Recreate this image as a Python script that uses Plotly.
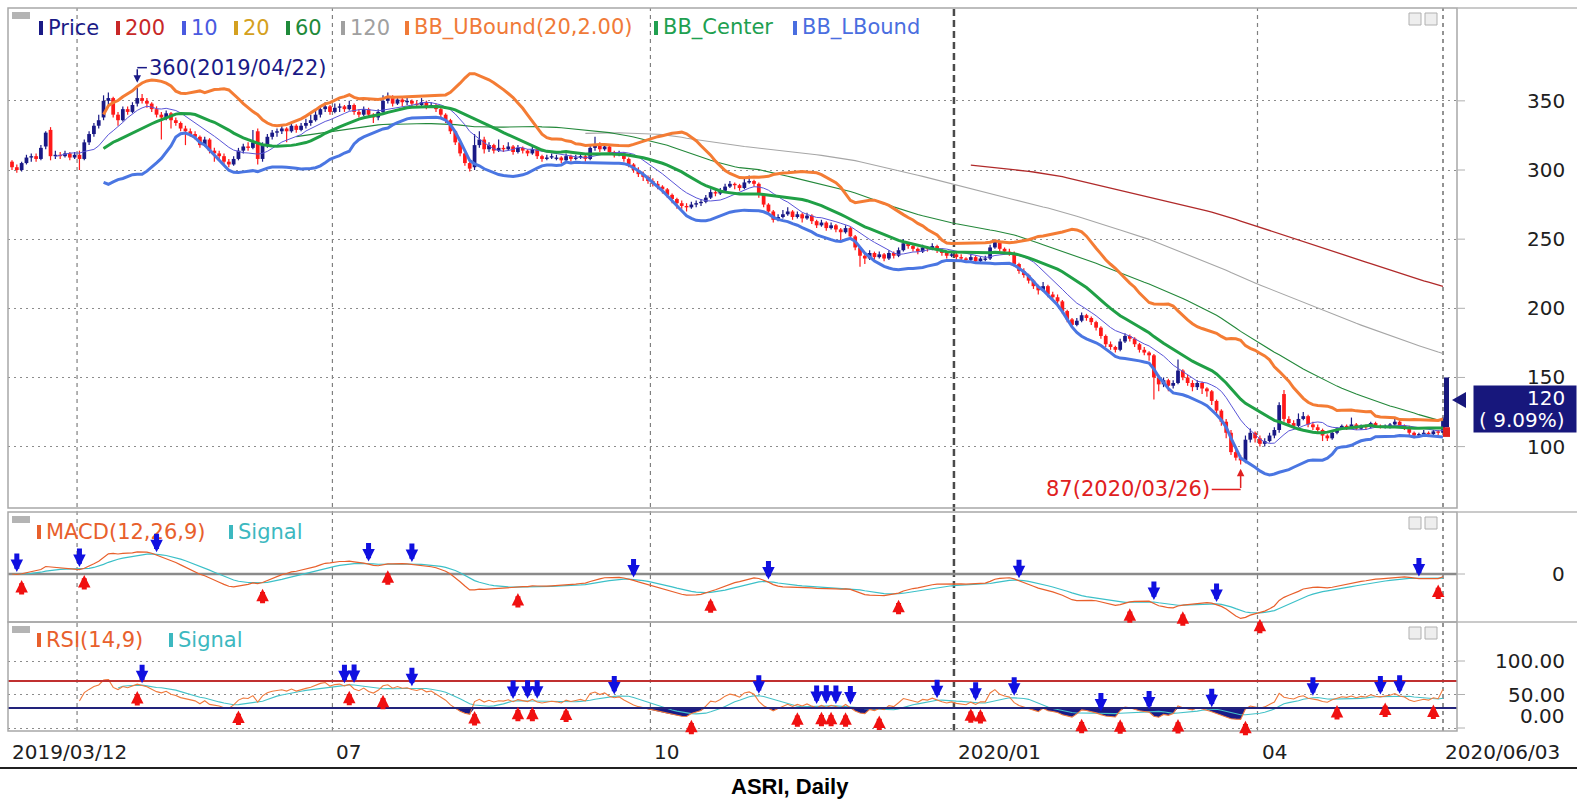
import numpy as np
import pandas as pd
import plotly.graph_objects as go

# ---------------- data ----------------
open_ = [
    306, 302, 300, 305, 309, 310, 308, 317, 329, 310,
    311, 310, 312, 309, 311, 308, 320, 326, 332, 338,
    350, 352, 340, 336, 344, 342, 348, 352, 350, 348,
    344, 340, 338, 341, 336, 334, 330, 328, 326, 324,
    318, 322, 314, 312, 310, 306, 304, 308, 314, 317,
    316, 328, 308, 318, 324, 327, 328, 330, 328, 332,
    329, 332, 334, 336, 340, 344, 346, 342, 345, 346,
    344, 347, 342, 340, 344, 340, 338, 342, 350, 352,
    348, 351, 349, 350, 348, 347, 349, 346, 347, 344,
    340, 336, 328, 320, 312, 305, 302, 318, 322, 315,
    318, 314, 316, 315, 317, 313, 316, 314, 312, 315,
    310, 308, 309, 308, 309, 307, 310, 308, 309,
    310, 308, 316, 318, 315, 317, 313, 311, 312, 308,
    304, 300, 297, 295, 292, 290, 288, 286, 282, 279,
    276, 274, 273, 275, 276, 277, 280, 284, 283, 285,
    288, 290, 289, 287, 291, 292, 290, 282, 275, 270,
    264, 266, 268, 270, 266, 268, 265, 267, 263, 260,
    262, 258, 260, 257, 255, 258, 252, 244, 238, 236,
    240, 237, 239, 236, 240, 238, 242, 247, 245, 243,
    241, 244, 243, 245, 242, 240, 238, 239, 237, 236,
    235, 237, 234, 235, 236, 244, 248, 243, 241,
    240, 232, 227, 224, 220, 216, 213, 216, 210, 208,
    205, 198, 192, 188, 191, 195, 193, 190, 186, 180,
    174, 172, 170, 176, 180, 178, 174, 170, 168, 166,
    150, 145, 148, 144, 146, 155, 150, 146, 143, 146,
    142, 140, 133, 126, 118, 110, 96, 92, 90, 105,
    110, 106, 102, 104, 108, 112, 138, 120, 117, 115,
    120, 122, 116, 114, 112, 108, 106, 110, 113, 115,
    114, 116, 113, 115, 114, 117, 115, 114, 114, 116, 118,
    115, 114, 110, 108, 109, 110, 109, 111, 110,
]
high = [
    307, 304, 306, 311, 312, 312, 318, 328, 331, 314,
    313, 314, 313, 313, 314, 322, 328, 334, 340, 354,
    356, 353, 342, 346, 346, 349, 360, 355, 352, 349,
    346, 342, 343, 342, 338, 335, 332, 330, 328, 325,
    324, 323, 316, 314, 312, 308, 310, 316, 319, 320,
    329, 330, 320, 326, 329, 330, 333, 331, 334, 333,
    334, 337, 340, 344, 346, 349, 347, 348, 348, 347,
    350, 348, 344, 346, 345, 341, 344, 354, 356, 354,
    353, 352, 352, 351, 350, 352, 350, 349, 348, 345,
    341, 337, 329, 322, 313, 306, 326, 328, 324, 320,
    319, 322, 318, 320, 318, 318, 317, 315, 317, 316,
    311, 311, 312, 311, 310, 312, 311, 311, 312,
    311, 318, 324, 320, 319, 318, 314, 314, 313, 309,
    305, 302, 299, 296, 294, 292, 289, 287, 283, 280,
    278, 276, 277, 278, 279, 282, 286, 286, 287, 290,
    292, 291, 290, 294, 296, 293, 291, 283, 276, 271,
    268, 271, 273, 271, 270, 269, 269, 268, 264, 264,
    263, 262, 261, 258, 260, 259, 253, 245, 240, 242,
    241, 241, 240, 242, 241, 244, 250, 248, 246, 244,
    246, 245, 247, 246, 243, 241, 241, 240, 239, 237,
    239, 238, 237, 238, 246, 250, 249, 244, 243,
    241, 233, 229, 225, 221, 217, 219, 217, 212, 210,
    206, 199, 193, 193, 197, 196, 194, 191, 187, 181,
    176, 173, 178, 182, 181, 179, 175, 172, 169, 167,
    152, 150, 149, 148, 163, 156, 152, 148, 148, 147,
    143, 141, 134, 127, 120, 112, 100, 94, 108, 113,
    111, 108, 106, 110, 114, 132, 141, 122, 119, 124,
    125, 123, 118, 116, 113, 109, 112, 114, 116, 116,
    121, 117, 116, 116, 118, 118, 116, 116, 117, 120, 119,
    116, 115, 111, 110, 112, 111, 112, 112, 121,
]
low = [
    300, 298, 299, 304, 306, 306, 307, 315, 307, 308,
    308, 309, 307, 308, 300, 307, 318, 324, 330, 336,
    346, 338, 332, 335, 340, 341, 346, 348, 345, 342,
    338, 322, 336, 330, 332, 328, 318, 324, 322, 316,
    317, 312, 306, 307, 304, 302, 303, 307, 312, 314,
    315, 304, 306, 316, 322, 324, 326, 320, 327, 327,
    328, 330, 332, 335, 338, 342, 340, 341, 342, 342,
    343, 340, 338, 339, 338, 334, 336, 341, 348, 346,
    347, 346, 347, 346, 345, 346, 344, 345, 342, 338,
    334, 326, 318, 310, 303, 299, 300, 316, 312, 313,
    312, 313, 313, 314, 311, 312, 312, 310, 311, 308,
    306, 307, 308, 307, 305, 306, 306, 307, 308,
    306, 307, 314, 313, 314, 311, 309, 310, 306, 302,
    298, 295, 292, 290, 288, 286, 283, 280, 276, 272,
    272, 270, 272, 273, 274, 276, 279, 281, 282, 284,
    287, 286, 285, 286, 290, 288, 280, 273, 268, 262,
    263, 265, 267, 264, 265, 262, 264, 261, 258, 259,
    256, 257, 255, 248, 254, 250, 242, 230, 232, 235,
    235, 236, 234, 235, 236, 237, 241, 243, 241, 239,
    240, 241, 242, 240, 238, 236, 237, 235, 234, 233,
    234, 232, 233, 234, 235, 243, 241, 239, 238,
    230, 225, 222, 218, 214, 210, 212, 208, 206, 203,
    196, 190, 186, 187, 190, 191, 188, 184, 178, 172,
    170, 168, 169, 175, 176, 172, 168, 166, 162, 134,
    140, 143, 140, 142, 145, 148, 144, 140, 141, 138,
    136, 130, 124, 115, 106, 94, 90, 87, 88, 103,
    103, 100, 100, 103, 106, 110, 118, 115, 113, 114,
    119, 114, 112, 110, 104, 104, 105, 109, 112, 112,
    113, 112, 112, 112, 113, 114, 113, 113, 113, 115, 114,
    112, 108, 106, 107, 108, 107, 108, 108, 110,
]
close = [
    302, 300, 305, 309, 310, 308, 316, 327, 310, 311,
    310, 312, 309, 311, 308, 320, 326, 332, 336, 350,
    352, 340, 336, 344, 342, 347, 352, 350, 348, 344,
    340, 338, 341, 336, 334, 330, 328, 326, 324, 318,
    322, 314, 312, 310, 306, 304, 308, 314, 317, 316,
    320, 308, 318, 324, 327, 328, 330, 328, 332, 329,
    332, 334, 336, 340, 344, 346, 342, 345, 346, 344,
    347, 342, 340, 344, 340, 338, 342, 350, 352, 348,
    351, 349, 350, 348, 347, 349, 346, 347, 344, 340,
    336, 328, 320, 312, 305, 301, 318, 322, 315, 318,
    314, 316, 315, 317, 313, 316, 314, 312, 315, 310,
    308, 309, 310, 309, 307, 310, 308, 309, 310,
    308, 316, 318, 315, 317, 313, 311, 312, 308, 304,
    300, 297, 295, 292, 290, 288, 286, 282, 279, 276,
    274, 273, 275, 276, 277, 280, 284, 283, 285, 288,
    290, 289, 287, 291, 292, 290, 282, 275, 270, 264,
    266, 268, 270, 266, 268, 265, 267, 263, 260, 262,
    258, 260, 257, 255, 258, 252, 244, 238, 236, 240,
    237, 239, 236, 240, 238, 242, 247, 245, 243, 241,
    244, 243, 245, 242, 240, 238, 239, 237, 236, 235,
    237, 234, 236, 236, 244, 248, 243, 241, 240,
    232, 227, 224, 220, 216, 213, 216, 210, 208, 205,
    198, 192, 188, 191, 195, 193, 190, 186, 180, 174,
    172, 170, 176, 180, 178, 174, 170, 168, 166, 150,
    145, 148, 144, 146, 155, 150, 146, 143, 146, 142,
    140, 133, 126, 118, 110, 96, 92, 90, 105, 110,
    106, 102, 104, 108, 112, 130, 120, 117, 115, 120,
    122, 116, 114, 112, 108, 106, 110, 113, 115, 114,
    116, 113, 115, 114, 117, 115, 114, 115, 116, 118, 115,
    114, 110, 108, 109, 110, 109, 111, 110, 120,
]

holidays = [
    "2019-04-03", "2019-04-17", "2019-04-19", "2019-05-01", "2019-05-30", "2019-05-31",
    "2019-06-03", "2019-06-04", "2019-06-05", "2019-06-06", "2019-06-07", "2019-06-10",
    "2019-12-24", "2019-12-25", "2019-12-31", "2020-01-01", "2020-03-25", "2020-04-10",
    "2020-05-01", "2020-05-07", "2020-05-21", "2020-05-22", "2020-05-25", "2020-06-01",
]
tick_months = ["2019-04", "2019-07", "2019-10", "2020-01", "2020-04"]
tick_texts = ["", "07", "10", "2020/01", "04"]
first_label = "2019/03/12"
last_label = "2020/06/03"
price_ticks = [100, 150, 200, 250, 300, 350]
rsi_ticks = [0, 50, 100]
ma_periods = [200, 10, 20, 60, 120]
hi_note = "360(2019/04/22)"
lo_note = "87(2020/03/26)"
title = "ASRI, Daily"

# ---------------- calendar ----------------
days = pd.bdate_range("2019-03-12", "2020-06-03")
days = days[~days.strftime("%Y-%m-%d").isin(holidays)]
n = len(close)
days = days[:n]
xi = np.arange(n)
ym = days.strftime("%Y-%m")
month_idx = [int(np.argmax(ym == m)) for m in tick_months]

# ---------------- indicators ----------------
c = pd.Series(close, dtype=float)
ma = {p: c.rolling(p).mean() for p in ma_periods}
sd20 = c.rolling(20).std(ddof=0)
bb_mid = c.rolling(20).mean()
bb_up = bb_mid + 2 * sd20
bb_lo = bb_mid - 2 * sd20
ema12 = c.ewm(span=12, adjust=False).mean()
ema26 = c.ewm(span=26, adjust=False).mean()
macd = ema12 - ema26
macd_sig = macd.ewm(span=9, adjust=False).mean()
d = c.diff()
gain = d.clip(lower=0)
loss = (-d).clip(lower=0)
ag = gain.ewm(alpha=1 / 14, adjust=False, min_periods=14).mean()
al = loss.ewm(alpha=1 / 14, adjust=False, min_periods=14).mean()
rsi = 100 - 100 / (1 + ag / al)
rsi_sig = rsi.rolling(9).mean()


def crosses(a, b):
    dd = (a - b).values
    ups, downs = [], []
    for i in range(1, len(dd)):
        if np.isnan(dd[i]) or np.isnan(dd[i - 1]):
            continue
        if dd[i - 1] <= 0 < dd[i]:
            ups.append(i)
        elif dd[i - 1] >= 0 > dd[i]:
            downs.append(i)
    return ups, downs


# ---------------- geometry ----------------
W, H = 1577, 804


def px(v):
    return v / W


def py(v):
    return 1 - v / H


XL, XR = 8, 1457
X_FIRST, X_LAST = 12, 1443
P_T, P_B = 8, 508
M_T, M_B = 512, 622
R_T, R_B = 622, 731
step = (X_LAST - X_FIRST) / (n - 1)
xrange_ = [-(X_FIRST - XL) / step, (n - 1) + (XR - X_LAST) / step]

NAVY = "#1a1a86"
RED = "#ff1a1a"
FONT = "DejaVu Sans"

fig = go.Figure()

# price panel: candles as wicks + bodies
o_arr = np.array(open_, float)
c_arr = np.array(close, float)
up = c_arr >= o_arr
for mask, col in [(up, NAVY), (~up, RED)]:
    wx, wy = [], []
    for i in np.where(mask)[0]:
        wx += [i, i, None]
        wy += [low[i], high[i], None]
    fig.add_trace(go.Scatter(x=wx, y=wy, mode="lines", line=dict(color=col, width=1.2),
                             xaxis="x", yaxis="y", showlegend=False, hoverinfo="skip"))
    idx = np.where(mask)[0]
    body = np.maximum(np.abs(c_arr[idx] - o_arr[idx]), 0.8)
    fig.add_trace(go.Bar(x=idx, y=body, base=np.minimum(c_arr[idx], o_arr[idx]), width=0.78,
                         marker=dict(color=col, line=dict(width=0)), xaxis="x", yaxis="y",
                         showlegend=False, hoverinfo="skip"))

ma_style = {200: ("#b02a2a", 1.3), 120: ("#a6a6a6", 1.1), 60: ("#23883a", 1.1),
            20: ("#d8a521", 1.1), 10: ("#5a55d8", 1.0)}
for p in [200, 120, 60, 20, 10]:
    col, w = ma_style[p]
    fig.add_trace(go.Scatter(x=xi, y=ma[p], mode="lines", line=dict(color=col, width=w),
                             xaxis="x", yaxis="y", showlegend=False, hoverinfo="skip"))
for ser, col in [(bb_up, "#f47c34"), (bb_mid, "#20a046"), (bb_lo, "#4a76e2")]:
    fig.add_trace(go.Scatter(x=xi, y=ser, mode="lines", line=dict(color=col, width=3),
                             xaxis="x", yaxis="y", showlegend=False, hoverinfo="skip"))

# MACD panel
fig.add_trace(go.Scatter(x=xi, y=macd_sig, mode="lines", line=dict(color="#3cc0c8", width=1.2),
                         xaxis="x2", yaxis="y2", showlegend=False, hoverinfo="skip"))
fig.add_trace(go.Scatter(x=xi, y=macd, mode="lines", line=dict(color="#e8602c", width=1.2),
                         xaxis="x2", yaxis="y2", showlegend=False, hoverinfo="skip"))

# RSI panel fills
thirty = np.where(rsi.notna(), 30.0, np.nan)
seventy = np.where(rsi.notna(), 70.0, np.nan)
fig.add_trace(go.Scatter(x=xi, y=thirty, mode="lines", line=dict(width=0), xaxis="x3", yaxis="y3",
                         showlegend=False, hoverinfo="skip"))
fig.add_trace(go.Scatter(x=xi, y=np.minimum(rsi, 30), mode="lines", line=dict(width=0), fill="tonexty",
                         fillcolor=NAVY, xaxis="x3", yaxis="y3", showlegend=False, hoverinfo="skip"))
fig.add_trace(go.Scatter(x=xi, y=seventy, mode="lines", line=dict(width=0), xaxis="x3", yaxis="y3",
                         showlegend=False, hoverinfo="skip"))
fig.add_trace(go.Scatter(x=xi, y=np.maximum(rsi, 70), mode="lines", line=dict(width=0), fill="tonexty",
                         fillcolor="#d02020", xaxis="x3", yaxis="y3", showlegend=False, hoverinfo="skip"))
fig.add_trace(go.Scatter(x=xi, y=rsi_sig, mode="lines", line=dict(color="#46c2c8", width=1.1),
                         xaxis="x3", yaxis="y3", showlegend=False, hoverinfo="skip"))
fig.add_trace(go.Scatter(x=xi, y=rsi, mode="lines", line=dict(color="#f07a3c", width=1.1),
                         xaxis="x3", yaxis="y3", showlegend=False, hoverinfo="skip"))

# ---------------- axes ----------------
mlo = float(np.nanmin(np.minimum(macd, macd_sig)))
mhi = float(np.nanmax(np.maximum(macd, macd_sig)))
zero_frac = (M_B - 574) / (M_B - M_T)
lo_r = min(mlo * 1.08, -mhi * 1.15 * zero_frac / (1 - zero_frac))
hi_r = -lo_r * (1 - zero_frac) / zero_frac

xa = dict(range=xrange_, domain=[px(XL), px(XR)], showticklabels=False, showgrid=False,
          zeroline=False, showline=False, fixedrange=True)
grid = dict(showgrid=True, gridcolor="#8c8c8c", griddash="2px,4px", gridwidth=1)
fig.update_layout(
    width=W, height=H, margin=dict(l=0, r=0, t=0, b=0), barmode="overlay",
    paper_bgcolor="white", plot_bgcolor="white", showlegend=False,
    xaxis=dict(anchor="y", rangeslider=dict(visible=False), **xa),
    xaxis2=dict(anchor="y2", **xa),
    xaxis3=dict(anchor="y3", **xa),
    yaxis=dict(domain=[py(P_B), py(P_T)], range=[300 - (P_B - 170) / 1.383, 300 + (170 - P_T) / 1.383],
               tickvals=price_ticks, showticklabels=False, zeroline=False, fixedrange=True, **grid),
    yaxis2=dict(domain=[py(M_B), py(M_T)], range=[lo_r, hi_r], showticklabels=False,
                showgrid=False, zeroline=False, fixedrange=True),
    yaxis3=dict(domain=[py(R_B), py(R_T)], range=[-(731 - 728) / 0.67, (728 - 622) / 0.67],
                tickvals=rsi_ticks, showticklabels=False, zeroline=False, fixedrange=True, **grid),
)

shapes = []
ann = []

# vertical month lines
for k, mi in enumerate(month_idx):
    is_year = tick_texts[k].startswith("20")
    shapes.append(dict(type="line", xref="x", yref="paper", x0=mi - 0.5, x1=mi - 0.5,
                       y0=py(R_B), y1=py(P_T),
                       line=dict(color="#4a4a4a" if is_year else "#808080",
                                 width=2.5 if is_year else 1.2,
                                 dash="7px,4px" if is_year else "4px,4px"), layer="below"))
shapes.append(dict(type="line", xref="x", yref="paper", x0=n - 1, x1=n - 1, y0=py(R_B), y1=py(P_T),
                   line=dict(color="#707070", width=1.5, dash="4px,4px"), layer="below"))

# reference lines
shapes.append(dict(type="line", xref="paper", yref="y2", x0=px(XL), x1=px(XR), y0=0, y1=0,
                   line=dict(color="#8a8a8a", width=2.5), layer="below"))
shapes.append(dict(type="line", xref="paper", yref="y3", x0=px(XL), x1=px(XR), y0=70, y1=70,
                   line=dict(color="#c03030", width=2)))
shapes.append(dict(type="line", xref="paper", yref="y3", x0=px(XL), x1=px(XR), y0=30, y1=30,
                   line=dict(color="#22237a", width=2)))

# panel frames
for t, b in [(P_T, P_B), (M_T, M_B), (R_T, R_B)]:
    shapes.append(dict(type="rect", xref="paper", yref="paper", x0=px(XL), x1=px(XR),
                       y0=py(b), y1=py(t), line=dict(color="#a8a8a8", width=1.5)))
    shapes.append(dict(type="line", xref="paper", yref="paper", x0=px(XR), x1=1,
                       y0=py(t), y1=py(t), line=dict(color="#b8b8b8", width=1.5)))
    shapes.append(dict(type="rect", xref="paper", yref="paper", x0=px(12), x1=px(30),
                       y0=py(t + 11), y1=py(t + 4), fillcolor="#b4b4b4", line=dict(width=0)))
    for x0 in (1409, 1425):
        shapes.append(dict(type="rect", xref="paper", yref="paper", x0=px(x0), x1=px(x0 + 12),
                           y0=py(t + 17), y1=py(t + 5), fillcolor="#eeeeee",
                           line=dict(color="#b0b0b0", width=1)))
shapes.append(dict(type="line", xref="paper", yref="paper", x0=0, x1=1, y0=py(768), y1=py(768),
                   line=dict(color="#202020", width=2)))

# right-side tick stubs and labels
RFONT = dict(family=FONT, size=20, color="#202020")
for v in price_ticks:
    shapes.append(dict(type="line", xref="paper", yref="y", x0=px(XR), x1=px(XR + 8), y0=v, y1=v,
                       line=dict(color="#b0b0b0", width=1)))
    ann.append(dict(x=px(1567), y=v, xref="paper", yref="y", text=str(v), showarrow=False,
                    xanchor="right", yanchor="middle", font=RFONT))
shapes.append(dict(type="line", xref="paper", yref="y2", x0=px(XR), x1=px(XR + 8), y0=0, y1=0,
                   line=dict(color="#b0b0b0", width=1)))
ann.append(dict(x=px(1567), y=0, xref="paper", yref="y2", text="0", showarrow=False,
                xanchor="right", yanchor="middle", font=RFONT))
for v in rsi_ticks:
    shapes.append(dict(type="line", xref="paper", yref="y3", x0=px(XR), x1=px(XR + 8), y0=v, y1=v,
                       line=dict(color="#b0b0b0", width=1)))
for v, ypix in [(100, None), (50, None), (0, 716)]:
    if ypix is None:
        ann.append(dict(x=px(1567), y=v, xref="paper", yref="y3", text=f"{v:.2f}", showarrow=False,
                        xanchor="right", yanchor="middle", font=RFONT))
    else:
        ann.append(dict(x=px(1567), y=py(ypix), xref="paper", yref="paper", text=f"{v:.2f}",
                        showarrow=False, xanchor="right", yanchor="middle", font=RFONT))

# last price marker and box
last = close[-1]
pct = (close[-1] / close[-2] - 1) * 100
shapes.append(dict(type="rect", xref="paper", yref="y", x0=px(1444), x1=px(1449), y0=low[-1] + 4,
                   y1=150, fillcolor="#17177c", line=dict(width=0)))
shapes.append(dict(type="rect", xref="paper", yref="y", x0=px(1443), x1=px(1450), y0=low[-1] - 3,
                   y1=low[-1] + 4, fillcolor="#e02020", line=dict(width=0)))
shapes.append(dict(type="path", xref="paper", yref="paper",
                   path=f"M {px(1452)} {py(400)} L {px(1466)} {py(392)} L {px(1466)} {py(408)} Z",
                   fillcolor="#17177c", line=dict(width=0)))
ann.append(dict(x=1, y=py(409), xref="paper", yref="paper", text=" ", showarrow=False,
                xanchor="right", yanchor="middle", width=102, height=46, bgcolor="#17177c", borderpad=0,
                font=dict(family=FONT, size=10, color="white")))
ann.append(dict(x=px(1567), y=py(398), xref="paper", yref="paper", text=f"{last:.0f}", showarrow=False,
                xanchor="right", yanchor="middle", font=dict(family=FONT, size=20, color="white")))
ann.append(dict(x=px(1567), y=py(420), xref="paper", yref="paper", text=f"( {pct:.2f}%)", showarrow=False,
                xanchor="right", yanchor="middle", font=dict(family=FONT, size=20, color="white")))

# legends
LFONT = 21
items = [("Price", NAVY, 46), ("200", "#c82828", 123), ("10", "#4a5ae0", 189), ("20", "#d4a020", 241),
         ("60", "#1f8a3a", 293), ("120", "#a0a0a0", 348), ("BB_UBound(20,2.00)", "#f07a38", 412),
         ("BB_Center", "#20a050", 661), ("BB_LBound", "#4a6ee0", 800)]
for lab, col, x0 in items:
    shapes.append(dict(type="rect", xref="paper", yref="paper", x0=px(x0 - 7), x1=px(x0 - 3),
                       y0=py(35), y1=py(21), fillcolor=col, line=dict(width=0)))
    ann.append(dict(x=px(x0), y=py(28), xref="paper", yref="paper", text=lab, showarrow=False,
                    xanchor="left", yanchor="middle", font=dict(family=FONT, size=LFONT, color=col)))
for lab, col, x0, yy in [("MACD(12,26,9)", "#e8602c", 44, 532), ("Signal", "#3cb8c0", 236, 532),
                         ("RSI(14,9)", "#e8602c", 44, 640), ("Signal", "#3cb8c0", 176, 640)]:
    shapes.append(dict(type="rect", xref="paper", yref="paper", x0=px(x0 - 7), x1=px(x0 - 3),
                       y0=py(yy + 7), y1=py(yy - 7), fillcolor=col, line=dict(width=0)))
    ann.append(dict(x=px(x0), y=py(yy), xref="paper", yref="paper", text=lab, showarrow=False,
                    xanchor="left", yanchor="middle", font=dict(family=FONT, size=LFONT, color=col)))

# high / low notes
ih = int(np.argmax(high))
il = int(np.argmin(low))
ann.append(dict(x=ih, y=high[ih] + 3, xref="x", yref="y", ax=ih, ay=high[ih] + 14, axref="x", ayref="y",
                text="", showarrow=True, arrowhead=2, arrowsize=1, arrowwidth=1.5, arrowcolor=NAVY))
shapes.append(dict(type="line", xref="x", yref="y", x0=ih, x1=ih + 2, y0=high[ih] + 14, y1=high[ih] + 14,
                   line=dict(color=NAVY, width=1.5)))
ann.append(dict(x=ih + 2, y=high[ih] + 14, xref="x", yref="y", text=hi_note, showarrow=False,
                xanchor="left", yanchor="middle", font=dict(family=FONT, size=LFONT, color=NAVY)))
ann.append(dict(x=il, y=low[il] - 3, xref="x", yref="y", ax=il, ay=low[il] - 18, axref="x", ayref="y",
                text="", showarrow=True, arrowhead=2, arrowsize=1, arrowwidth=1.5, arrowcolor="#e02020"))
shapes.append(dict(type="line", xref="x", yref="y", x0=il - 6, x1=il, y0=low[il] - 18, y1=low[il] - 18,
                   line=dict(color="#e02020", width=1.5)))
ann.append(dict(x=il - 6, y=low[il] - 18, xref="x", yref="y", text=lo_note, showarrow=False,
                xanchor="right", yanchor="middle", font=dict(family=FONT, size=LFONT, color="#e02020")))


# crossover arrows
def arrow(i, yv, down, xr, yr):
    return dict(x=i, y=yv, xref=xr, yref=yr, text="", showarrow=True, ax=0, ay=-22 if down else 22,
                arrowhead=2, arrowsize=0.5, arrowwidth=5,
                arrowcolor="#1010e0" if down else "#f01010", standoff=2 if down else 6)


ups, downs = crosses(macd, macd_sig)
for i in ups:
    ann.append(arrow(i, min(macd[i], macd_sig[i]), False, "x2", "y2"))
for i in downs:
    ann.append(arrow(i, max(macd[i], macd_sig[i]), True, "x2", "y2"))
ups, downs = crosses(rsi, rsi_sig)
for i in ups:
    ann.append(arrow(i, min(rsi[i], rsi_sig[i]), False, "x3", "y3"))
for i in downs:
    ann.append(arrow(i, max(rsi[i], rsi_sig[i]), True, "x3", "y3"))

# x-axis labels
XFONT = dict(family=FONT, size=20, color="#202020")
ann.append(dict(x=0, y=py(752), xref="x3", yref="paper", text=first_label, showarrow=False,
                xanchor="left", yanchor="middle", xshift=-2, font=XFONT))
for k, mi in enumerate(month_idx):
    if tick_texts[k]:
        ann.append(dict(x=mi - 0.5, y=py(752), xref="x3", yref="paper", text=tick_texts[k], showarrow=False,
                        xanchor="left", yanchor="middle", xshift=2, font=XFONT))
ann.append(dict(x=n - 1, y=py(752), xref="x3", yref="paper", text=last_label, showarrow=False,
                xanchor="left", yanchor="middle", xshift=0, font=XFONT))
ann.append(dict(x=px(790), y=py(786), xref="paper", yref="paper", text=f"<b>{title}</b>", showarrow=False,
                xanchor="center", yanchor="middle",
                font=dict(family="Liberation Sans", size=22, color="black")))

fig.update_layout(shapes=shapes, annotations=ann)
fig.write_html(
    "out.html",
    config={"displayModeBar": False, "staticPlot": True},
    post_script=("document.documentElement.style.overflow='hidden';"
                 "document.body.style.overflow='hidden';document.body.style.margin='0';"),
)
